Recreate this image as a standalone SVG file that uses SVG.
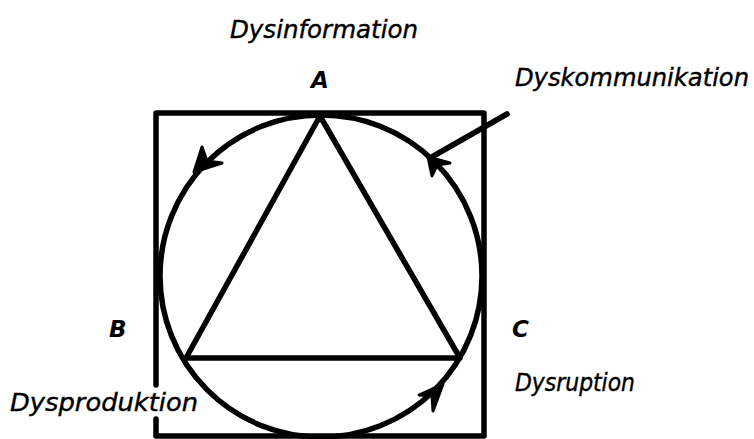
<svg xmlns="http://www.w3.org/2000/svg" width="754" height="439" viewBox="0 0 754 439">
<style>
.ln{fill:none;stroke:#000;stroke-width:5.5;stroke-linecap:round;stroke-linejoin:round}
.ah{fill:#000;stroke:#000;stroke-width:3;stroke-linejoin:round}
.lbl{font-family:"DejaVu Sans","Liberation Sans",sans-serif;font-style:oblique;font-size:24px;fill:#000;stroke:#000;stroke-width:0.4}
.pt{font-family:"DejaVu Sans","Liberation Sans",sans-serif;font-style:oblique;font-weight:bold;font-size:23px;fill:#000}
</style>
<rect width="754" height="439" fill="#fff"/>
<g id="frame">
<path class="ln" d="M156 385 V113 H484 V436 H156 V419"/>
</g>
<g id="circle">
<circle class="ln" cx="321" cy="276" r="161"/>
</g>
<g id="triangle">
<path class="ln" d="M320 116 L186 358 L460 358 Z"/>
</g>
<g id="connectors">
<line class="ln" x1="507" y1="114" x2="430" y2="158"/>
<path class="ah" d="M194 172 L202 147 L207 161 L222 163 Z"/>
<path class="ah" d="M428 157 L450 163 L437 165 L432 176 Z"/>
<path class="ah" d="M443 384 L419 395 L432 396 L433 411 Z"/>
</g>
<g id="labels">
<text class="lbl" x="230" y="38" textLength="188" lengthAdjust="spacingAndGlyphs">Dysinformation</text>
<text class="pt" x="311" y="88">A</text>
<text class="lbl" x="515" y="86" textLength="234" lengthAdjust="spacingAndGlyphs">Dyskommunikation</text>
<text class="pt" x="109" y="337">B</text>
<text class="pt" x="512" y="337">C</text>
<text class="lbl" x="515" y="391" textLength="120" lengthAdjust="spacingAndGlyphs">Dysruption</text>
<text class="lbl" x="10" y="411" textLength="188" lengthAdjust="spacingAndGlyphs">Dysproduktion</text>
</g>
</svg>
